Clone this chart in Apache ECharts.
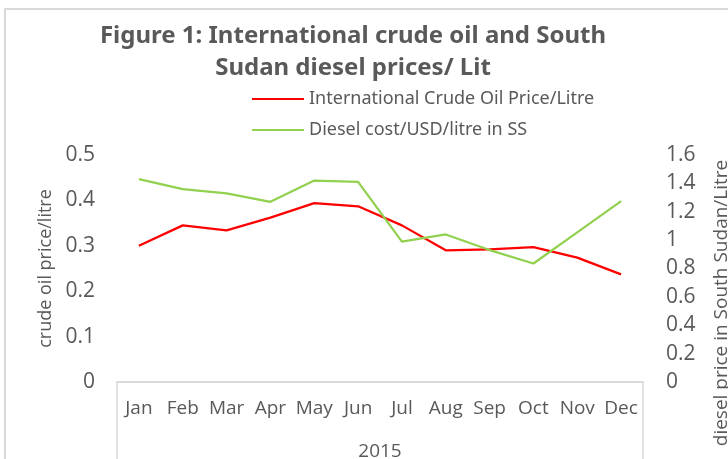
<!DOCTYPE html>
<html>
<head>
<meta charset="utf-8">
<script src="https://cdn.jsdelivr.net/npm/echarts@6/dist/echarts.min.js"></script>
<style>
  html, body { margin: 0; padding: 0; background: #fff; }
  #main { width: 728px; height: 459px; }
</style>
</head>
<body>
<div id="main"></div>
<script>
// values
var months = ['Jan', 'Feb', 'Mar', 'Apr', 'May', 'Jun', 'Jul', 'Aug', 'Sep', 'Oct', 'Nov', 'Dec'];
var years = ['2015'];
var crudeOil = [0.300, 0.345, 0.334, 0.362, 0.394, 0.387, 0.345, 0.290, 0.292, 0.297, 0.274, 0.237];
var diesel = [1.43, 1.36, 1.33, 1.27, 1.42, 1.41, 0.99, 1.04, 0.93, 0.835, 1.055, 1.275];
var seriesNames = ['International Crude Oil Price/Litre', 'Diesel cost/USD/litre in SS'];

var grey = '#595959';
var lineGrey = '#d9d9d9';
var font = 'Open Sans';

drawChart();

function drawChart() {
    var myChart = echarts.init(document.getElementById('main'));
    var option = {
        animation: false,
        graphic: [{
            type: 'rect',
            shape: { x: 5, y: 9, width: 800, height: 520 },
            style: { fill: 'none', stroke: lineGrey, lineWidth: 2 },
            silent: true
        }],
        title: {
            text: 'Figure 1: International crude oil and South\nSudan diesel prices/ Lit',
            left: 348,
            top: 15,
            textAlign: 'center',
            textStyle: {
                color: grey,
                fontFamily: 'Noto Sans',
                fontWeight: 'bold',
                fontSize: 24,
                lineHeight: 32
            }
        },
        legend: {
            orient: 'vertical',
            left: 247,
            top: 83,
            itemGap: 9,
            itemWidth: 52,
            itemHeight: 2,
            textStyle: { color: grey, fontFamily: 'Noto Sans', fontSize: 18, lineHeight: 22 },
            data: [
                { name: seriesNames[0], icon: 'rect' },
                { name: seriesNames[1], icon: 'rect' }
            ]
        },
        grid: { left: 117, right: 85, top: 155, bottom: 77, containLabel: false, outerBoundsMode: 'none' },
        xAxis: [{
            type: 'category',
            data: months,
            position: 'bottom',
            axisLine: { show: true, lineStyle: { color: lineGrey, width: 1.5 } },
            axisTick: { show: false },
            axisLabel: { interval: 0, color: grey, fontFamily: font, fontSize: 19, margin: 17 }
        }, {
            type: 'category',
            data: years,
            position: 'bottom',
            axisLine: { show: true, lineStyle: { color: lineGrey, width: 1.5 } },
            axisTick: { show: true, length: 80, lineStyle: { color: lineGrey, width: 1.5 } },
            axisLabel: { color: grey, fontFamily: font, fontSize: 19, margin: 60 }
        }],
        yAxis: [{
            type: 'value',
            min: 0,
            max: 0.5,
            interval: 0.1,
            name: 'crude oil price/litre',
            nameLocation: 'middle',
            nameRotate: 90,
            nameGap: 62,
            nameTextStyle: { color: grey, fontFamily: font, fontSize: 18 },
            axisLine: { show: false },
            axisTick: { show: false },
            splitLine: { show: false },
            axisLabel: { color: grey, fontFamily: font, fontSize: 21, margin: 22 }
        }, {
            type: 'value',
            min: 0,
            max: 1.6,
            interval: 0.2,
            position: 'right',
            name: 'diesel price in South Sudan/Litre',
            nameLocation: 'middle',
            nameRotate: 90,
            nameGap: 69,
            nameTextStyle: { color: grey, fontFamily: font, fontSize: 19, padding: [0, 69, 0, 0] },
            axisLine: { show: false },
            axisTick: { show: false },
            splitLine: { show: false },
            axisLabel: { color: grey, fontFamily: font, fontSize: 21, margin: 23 }
        }],
        series: [{
            name: seriesNames[0],
            type: 'line',
            xAxisIndex: 0,
            yAxisIndex: 0,
            data: crudeOil,
            symbol: 'none',
            itemStyle: { color: '#ff0000' },
            lineStyle: { color: '#ff0000', width: 2.25 }
        }, {
            name: seriesNames[1],
            type: 'line',
            xAxisIndex: 0,
            yAxisIndex: 1,
            data: diesel,
            symbol: 'none',
            itemStyle: { color: '#92d050' },
            lineStyle: { color: '#92d050', width: 2.25 }
        }]
    };
    myChart.setOption(option);
}
</script>
</body>
</html>
